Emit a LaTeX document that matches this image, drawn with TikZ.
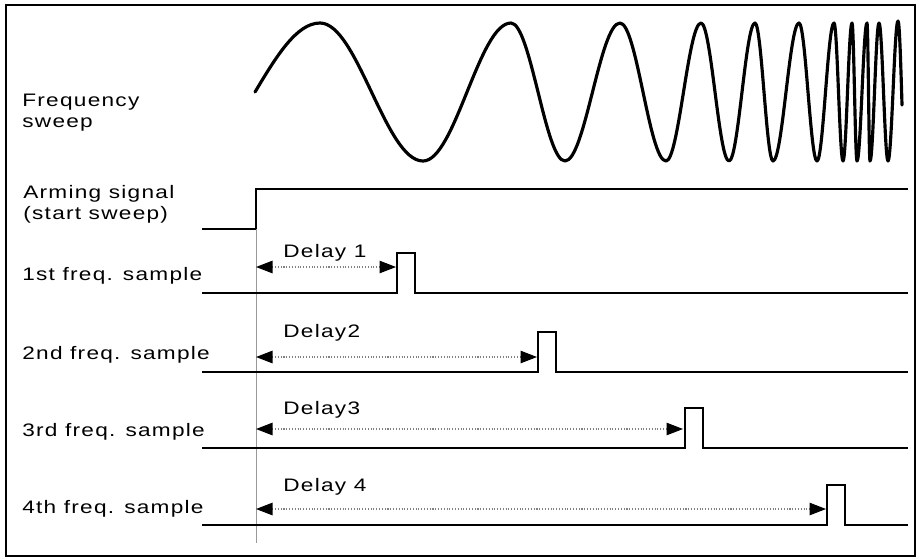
\documentclass[tikz,border=0pt]{standalone}
\usepackage{fontspec}
\setmainfont{Liberation Sans}[FakeStretch=1.25,LetterSpace=7]
\usetikzlibrary{arrows.meta, positioning}

\begin{document}
\begin{tikzpicture}[
    x=0.02cm, y=-0.02cm,
    lbl/.style={inner sep=0pt, anchor=base west, align=left, font=\fontsize{10.3pt}{11.4pt}\selectfont},
    sig/.style={line width=1.5pt, line join=miter},
    wave/.style={line width=1.8pt, line cap=round, line join=round},
    dly/.style={gray, densely dotted, line width=0.6pt, {Triangle[length=0.33cm, width=0.25cm, color=black]}-{Triangle[length=0.33cm, width=0.25cm, color=black]}}
]
\useasboundingbox (0,0) rectangle (918,559);
\draw[line width=1.3pt] (6,5) rectangle (915,556);

% labels
\node[lbl] (fsweep) at (22,127) {Frequency\\sweep};
\node[lbl] (arming) at (23,219) {Arming signal\\(start sweep)};
\node[lbl] (smp1) at (22,280) {1st freq. sample};
\node[lbl] (smp2) at (22,359) {2nd freq. sample};
\node[lbl] (smp3) at (22,436) {3rd freq. sample};
\node[lbl] (smp4) at (22,513) {4th freq. sample};
\node[lbl] (dly1) at (283,257) {Delay 1};
\node[lbl] (dly2) at (283,337) {Delay2};
\node[lbl] (dly3) at (283,414) {Delay3};
\node[lbl] (dly4) at (283,491) {Delay 4};

% frequency sweep
\draw[wave] (255,92) sin (320,23) cos (371.5,92) sin (423,161) cos (467,92)
  sin (511,23) cos (538,92) sin (565,161) cos (592.5,92)
  sin (620,23) cos (643,92) sin (666,161) cos (683.5,92)
  sin (701,23) cos (715,92) sin (729,161) cos (742,92)
  sin (755,23) cos (764,92) sin (773,161) cos (786,92)
  sin (799,23) cos (808,92) sin (817,161) cos (825.5,92)
  sin (834,23) cos (838.5,92) sin (843,161) cos (847.5,92)
  sin (852,23) cos (854.5,92) sin (857,161) cos (862,92)
  sin (867,23) cos (868.5,92) sin (870,161) cos (874.5,92)
  sin (879,23) cos (883.5,92) sin (888,161) cos (893,92)
  sin (898,21) cos (902,105);

% arming signal
\coordinate (t0) at (256,229);
\draw[sig] (202,229) -- (t0) -- (256,189) -- (908,189);
\draw[gray!80, line width=0.5pt] (t0) -- (256,543);

% sample pulses
\foreach \y/\x in {293/397, 372/538, 448/685, 525/827}
  \draw[sig] (202,\y) -- (\x,\y) -- ++(0,-40) -- ++(18,0) -- ++(0,40) -- (908,\y);

% delays
\foreach \y/\x in {267/396, 357/537, 429/683, 509/826}
  \draw[dly] (256,\y) -- (\x,\y);
\end{tikzpicture}
\end{document}
